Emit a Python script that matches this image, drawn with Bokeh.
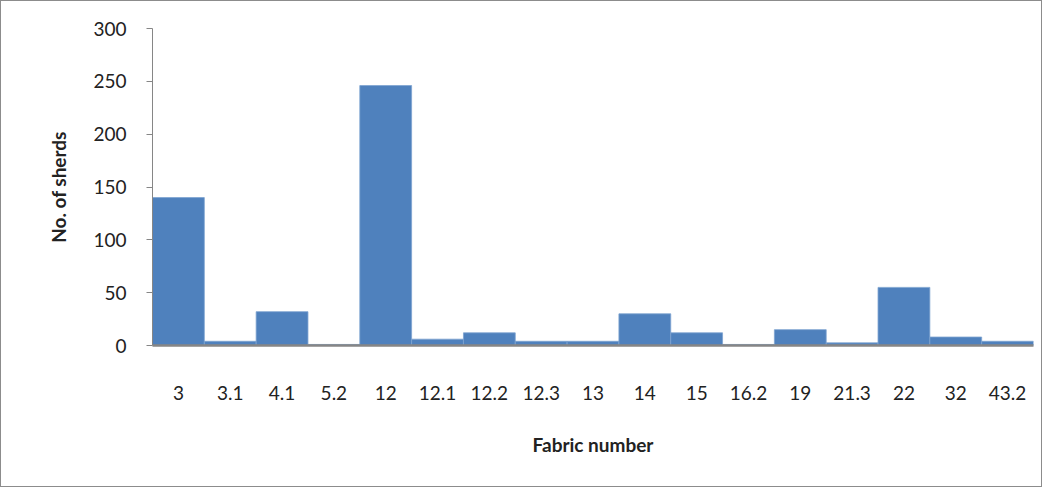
from bokeh.plotting import figure
from bokeh.models import ColumnDataSource, FixedTicker, Range1d
from bokeh.embed import file_html
from bokeh.resources import INLINE

fabrics = ["3", "3.1", "4.1", "5.2", "12", "12.1", "12.2", "12.3", "13", "14",
           "15", "16.2", "19", "21.3", "22", "32", "43.2"]
sherds = [140, 4, 32, 1, 246, 6, 12, 4, 4, 30, 12, 1, 15, 2.5, 55, 8, 4]
y_ticks = [0, 50, 100, 150, 200, 250, 300]

src = ColumnDataSource(dict(x=fabrics, y=sherds))

p = figure(x_range=fabrics, width=1042, height=487, output_backend="svg",
           toolbar_location=None, min_border_left=151, min_border_right=10,
           min_border_top=27, min_border_bottom=143)
p.y_range = Range1d(0, 300)
p.x_range.range_padding = 0
p.vbar(x="x", top="y", width=1.0, source=src, fill_color="#4F81BD",
       line_color="#7EA3D0", line_width=0.8)

p.styles = {"border": "1px solid #8c8c8c"}
p.outline_line_color = None
p.xgrid.visible = False
p.ygrid.visible = False

font = "Lato"
p.yaxis.ticker = FixedTicker(ticks=y_ticks)
p.yaxis.axis_line_color = "#868686"
p.yaxis.major_tick_line_color = "#868686"
p.yaxis.major_tick_out = 6
p.yaxis.major_tick_in = 0
p.yaxis.minor_tick_line_color = None
p.yaxis.major_label_text_font = font
p.yaxis.major_label_text_font_size = "19px"
p.yaxis.major_label_text_color = "#222222"
p.yaxis.major_label_standoff = 20
p.yaxis.axis_label = "No. of sherds"
p.yaxis.axis_label_text_font = font
p.yaxis.axis_label_text_font_style = "bold"
p.yaxis.axis_label_text_font_size = "19px"
p.yaxis.axis_label_text_color = "#222222"
p.yaxis.axis_label_standoff = 20

p.xaxis.axis_line_color = "#868686"
p.xaxis.axis_line_width = 2.5
p.xaxis.major_tick_line_color = None
p.xaxis.minor_tick_line_color = None
p.xaxis.major_label_text_font = font
p.xaxis.major_label_text_font_size = "19px"
p.xaxis.major_label_text_color = "#222222"
p.xaxis.major_label_standoff = 34
p.xaxis.axis_label = "Fabric number"
p.xaxis.axis_label_text_font = font
p.xaxis.axis_label_text_font_style = "bold"
p.xaxis.axis_label_text_font_size = "19px"
p.xaxis.axis_label_text_color = "#222222"
p.xaxis.axis_label_standoff = 30

open("out.html", "w").write(file_html(p, INLINE))
